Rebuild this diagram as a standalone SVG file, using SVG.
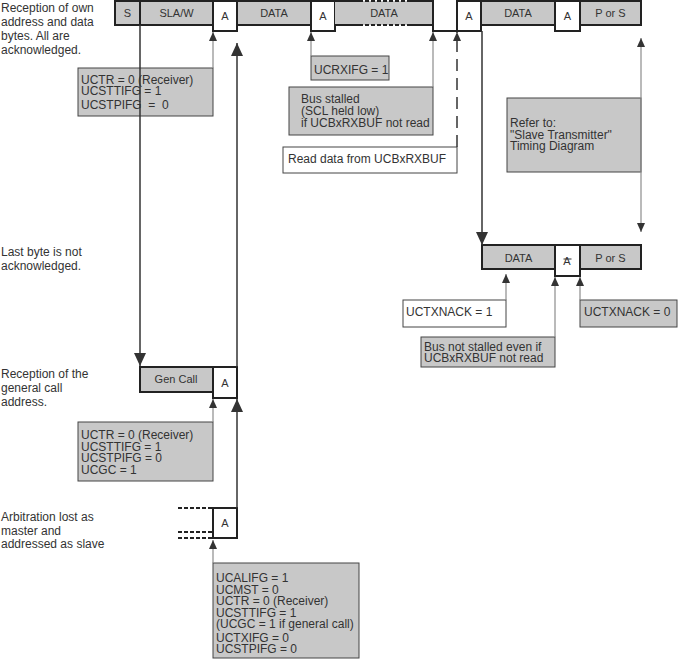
<svg xmlns="http://www.w3.org/2000/svg" width="678" height="659" viewBox="0 0 678 659">
<style>
text{font-family:"Liberation Sans",Arial,sans-serif;font-size:12px;fill:#333}
.bt{font-size:11px;text-anchor:middle}
.bar{fill:#c8c8c8;stroke:#222;stroke-width:2}
.ack{fill:#fff;stroke:#222;stroke-width:2}
.note{fill:#c8c8c8;stroke:#444;stroke-width:1}
.wnote{fill:#fff;stroke:#444;stroke-width:1}
.dk{stroke:#333;stroke-width:1.5;fill:none}
.gr{stroke:#8c8c8c;stroke-width:1.2;fill:none}
.dash{stroke:#222;stroke-width:2;stroke-dasharray:4 2;fill:none}
.pre{white-space:pre}
</style>
<defs>
<marker id="big" markerUnits="userSpaceOnUse" markerWidth="13" markerHeight="12" refX="13" refY="6" orient="auto-start-reverse"><path d="M0,0 L13,6 L0,12 z" fill="#333"/></marker>
<marker id="sm" markerUnits="userSpaceOnUse" markerWidth="9" markerHeight="8" refX="9" refY="4" orient="auto-start-reverse"><path d="M0,0 L9,4 L0,8 z" fill="#333"/></marker>
</defs>

<g id="labels">
<text x="1" y="12">Reception of own</text>
<text x="1" y="26">address and data</text>
<text x="1" y="40">bytes. All are</text>
<text x="1" y="53.5">acknowledged.</text>
<text x="1" y="256">Last byte is not</text>
<text x="1" y="269.5">acknowledged.</text>
<text x="1" y="378">Reception of the</text>
<text x="1" y="392">general call</text>
<text x="1" y="406">address.</text>
<text x="1" y="521">Arbitration lost as</text>
<text x="1" y="534.5">master and</text>
<text x="1" y="548">addressed as slave</text>
</g>

<g id="bar-main">
<rect class="bar" x="115" y="1" width="25" height="24"/>
<rect class="bar" x="140" y="1" width="73" height="24"/>
<rect class="bar" x="237" y="1" width="74" height="24"/>
<rect class="ack" x="213" y="1" width="24" height="30"/>
<rect class="ack" x="311" y="1" width="24" height="30"/>
<rect x="335" y="1" width="98" height="24" fill="#c8c8c8"/>
<path d="M335,1 H359 M408,1 H433 M335,25 H359 M408,25 H433 M433,0 V31 H457" stroke="#222" stroke-width="2" fill="none"/>
<path class="dash" d="M359,1 H408 M359,25 H408"/>
<rect class="bar" x="481" y="1" width="74" height="24"/>
<rect class="bar" x="580" y="1" width="61" height="24"/>
<rect class="ack" x="457" y="1" width="24" height="30"/>
<rect class="ack" x="555" y="1" width="25" height="30"/>
<text class="bt" x="127.5" y="17">S</text>
<text class="bt" x="176.5" y="17">SLA/W</text>
<text class="bt" x="225" y="20">A</text>
<text class="bt" x="274" y="17">DATA</text>
<text class="bt" x="323" y="20">A</text>
<text class="bt" x="384" y="17">DATA</text>
<text class="bt" x="469" y="20">A</text>
<text class="bt" x="518" y="17">DATA</text>
<text class="bt" x="567.5" y="20">A</text>
<text class="bt" x="610.5" y="17">P or S</text>
</g>

<g id="bar-nack">
<rect class="bar" x="482" y="245" width="73" height="24"/>
<rect class="bar" x="580" y="245" width="61" height="24"/>
<rect class="ack" x="555" y="245" width="25" height="31"/>
<text class="bt" x="518.5" y="262">DATA</text>
<text class="bt" x="567" y="265">A</text>
<line x1="563.5" y1="259" x2="571.5" y2="259" stroke="#333" stroke-width="1"/>
<text class="bt" x="610.5" y="262">P or S</text>
</g>

<g id="bar-gencall">
<rect class="bar" x="140" y="367" width="73" height="25"/>
<rect class="ack" x="213" y="367" width="24" height="31"/>
<text class="bt" x="176" y="383">Gen Call</text>
<text class="bt" x="225" y="387">A</text>
</g>

<g id="bar-arb">
<rect class="ack" x="213" y="508" width="24" height="30"/>
<text class="bt" x="225" y="527">A</text>
<path class="dash" d="M178,508 H212 M178,532 H212 M178,538 H212"/>
</g>

<g id="note-ucctr1">
<rect class="note" x="78" y="68" width="135" height="48"/>
<text x="81" y="84">UCTR = 0 (Receiver)</text>
<text x="81" y="94.5">UCSTTIFG = 1</text>
<text x="81" y="109" class="pre">UCSTPIFG  =  0</text>
</g>

<g id="note-ucrxifg">
<rect class="note" x="311" y="56" width="78" height="24"/>
<text x="314" y="74">UCRXIFG = 1</text>
</g>

<g id="note-stalled">
<rect class="note" x="289" y="87" width="144" height="48"/>
<text x="301" y="102.5">Bus stalled</text>
<text x="301" y="114.5">(SCL held low)</text>
<text x="301" y="126.5">if UCBxRXBUF not read</text>
</g>

<g id="note-readdata">
<rect class="wnote" x="283" y="147" width="174" height="26"/>
<text x="288" y="163">Read data from UCBxRXBUF</text>
</g>

<g id="note-refer">
<rect class="note" x="507" y="98" width="134" height="74"/>
<text x="510" y="127">Refer to:</text>
<text x="510" y="138.5">"Slave Transmitter"</text>
<text x="510" y="149.5">Timing Diagram</text>
</g>

<g id="note-txnack1">
<rect class="wnote" x="403" y="300" width="103" height="27"/>
<text x="406" y="316">UCTXNACK = 1</text>
</g>

<g id="note-txnack0">
<rect class="note" x="580" y="300" width="97" height="27"/>
<text x="584" y="316">UCTXNACK = 0</text>
</g>

<g id="note-notstalled">
<rect class="note" x="421" y="337" width="134" height="30"/>
<text x="424" y="351">Bus not stalled even if</text>
<text x="424" y="362">UCBxRXBUF not read</text>
</g>

<g id="note-gencall">
<rect class="note" x="78" y="422" width="135" height="59"/>
<text x="81" y="439">UCTR = 0 (Receiver)</text>
<text x="81" y="450.5">UCSTTIFG = 1</text>
<text x="81" y="462">UCSTPIFG = 0</text>
<text x="81" y="473.5">UCGC = 1</text>
</g>

<g id="note-arb">
<rect class="note" x="213" y="563" width="146" height="95"/>
<text x="216" y="582">UCALIFG = 1</text>
<text x="216" y="594">UCMST = 0</text>
<text x="216" y="605">UCTR = 0 (Receiver)</text>
<text x="216" y="616.5">UCSTTIFG = 1</text>
<text x="216" y="628">(UCGC = 1 if general call)</text>
<text x="216" y="641.5">UCTXIFG = 0</text>
<text x="216" y="653">UCSTPIFG = 0</text>
</g>

<g id="connectors">
<line class="dk" x1="140" y1="25" x2="140" y2="366" marker-end="url(#big)"/>
<line class="dk" x1="237" y1="367" x2="237" y2="43" marker-end="url(#big)"/>
<line class="dk" x1="237" y1="508" x2="237" y2="399" marker-end="url(#big)"/>
<line class="dk" x1="482" y1="31" x2="482" y2="245" marker-end="url(#big)"/>
<line class="dk" x1="457" y1="147" x2="457" y2="32" stroke-dasharray="12 7" marker-end="url(#sm)"/>
<line class="gr" x1="213" y1="68" x2="213" y2="32" marker-end="url(#sm)"/>
<line class="gr" x1="311" y1="56" x2="311" y2="32" marker-end="url(#sm)"/>
<line class="gr" x1="433" y1="87" x2="433" y2="32" marker-end="url(#sm)"/>
<line class="gr" x1="641" y1="38" x2="641" y2="232" marker-start="url(#sm)" marker-end="url(#sm)"/>
<line class="gr" x1="213" y1="422" x2="213" y2="399" marker-end="url(#sm)"/>
<line class="gr" x1="213" y1="563" x2="213" y2="540" marker-end="url(#sm)"/>
<line class="gr" x1="506" y1="300" x2="506" y2="274" marker-end="url(#sm)"/>
<line class="gr" x1="555" y1="337" x2="555" y2="277" marker-end="url(#sm)"/>
<line class="gr" x1="580" y1="300" x2="580" y2="277" marker-end="url(#sm)"/>
</g>
</svg>
